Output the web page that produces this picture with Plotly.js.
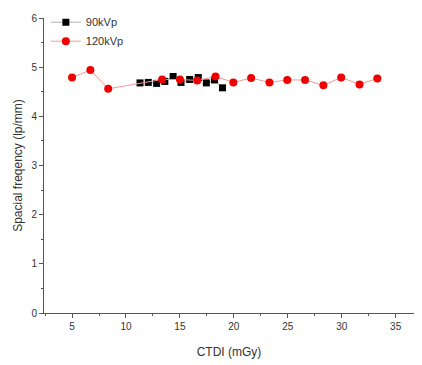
<!DOCTYPE html>
<html><head><meta charset="utf-8">
<script src="https://cdn.plot.ly/plotly-3.0.1.min.js"></script>
<style>html,body{margin:0;padding:0;background:#fff}#c{width:422px;height:365px}</style>
</head><body><div id="c"></div>
<script>
const x90 = [11.3, 12.07, 12.84, 13.6, 14.37, 15.1, 15.9, 16.7, 17.45, 18.2, 18.95];
const y90 = [4.68, 4.69, 4.67, 4.71, 4.81, 4.69, 4.75, 4.79, 4.68, 4.74, 4.58];
const x120 = [5, 6.7, 8.35, 13.35, 15, 16.6, 18.3, 19.95, 21.6, 23.3, 24.95, 26.6, 28.3, 29.95, 31.65, 33.3];
const y120 = [4.79, 4.94, 4.56, 4.75, 4.75, 4.73, 4.81, 4.69, 4.78, 4.69, 4.74, 4.74, 4.63, 4.79, 4.65, 4.77];
const name90 = '90kVp', name120 = '120kVp';
const xTitle = 'CTDI (mGy)', yTitle = 'Spacial freqency (lp/mm)';

const traces = [
  {x: x90, y: y90, name: name90, mode: 'lines+markers', type: 'scatter',
   line: {color: '#9a9a9a', width: 0.8},
   marker: {symbol: 'square', size: 7, color: '#000'}},
  {x: x120, y: y120, name: name120, mode: 'lines+markers', type: 'scatter',
   line: {color: '#f19a9a', width: 1},
   marker: {symbol: 'circle', size: 8, color: '#ee0000'}}
];
const axFont = {family: 'Liberation Sans, Arial, sans-serif', size: 10, color: '#333'};
const layout = {
  width: 422, height: 365,
  margin: {l: 44, r: 8, t: 13, b: 52},
  paper_bgcolor: '#fff', plot_bgcolor: '#fff',
  showlegend: true,
  legend: {x: 0.005, y: 1.035, xanchor: 'left', yanchor: 'top', bgcolor: 'rgba(0,0,0,0)',
    font: {family: 'Liberation Sans, Arial, sans-serif', size: 11, color: '#333'},
    tracegroupgap: 0, itemwidth: 30},
  xaxis: {range: [2.4, 36.7], showgrid: false, zeroline: false, showline: true,
    linecolor: '#555', linewidth: 1, ticks: 'outside', ticklen: 4, tickcolor: '#555',
    tick0: 5, dtick: 5, tickfont: axFont,
    minor: {ticks: 'outside', ticklen: 2, dtick: 2.5, tick0: 5, tickcolor: '#555', showgrid: false},
    title: {text: xTitle, font: {family: 'Liberation Sans, Arial, sans-serif', size: 12, color: '#333'}, standoff: 16}},
  yaxis: {range: [0, 6], showgrid: false, zeroline: false, showline: true,
    linecolor: '#555', linewidth: 1, ticks: 'outside', ticklen: 4, tickcolor: '#555',
    dtick: 1, tickfont: axFont,
    minor: {ticks: 'outside', ticklen: 2, dtick: 0.5, tickcolor: '#555', showgrid: false},
    title: {text: yTitle, font: {family: 'Liberation Sans, Arial, sans-serif', size: 12, color: '#333'}, standoff: 6}}
};
Plotly.newPlot('c', traces, layout, {displayModeBar: false, staticPlot: true});
</script></body></html>
